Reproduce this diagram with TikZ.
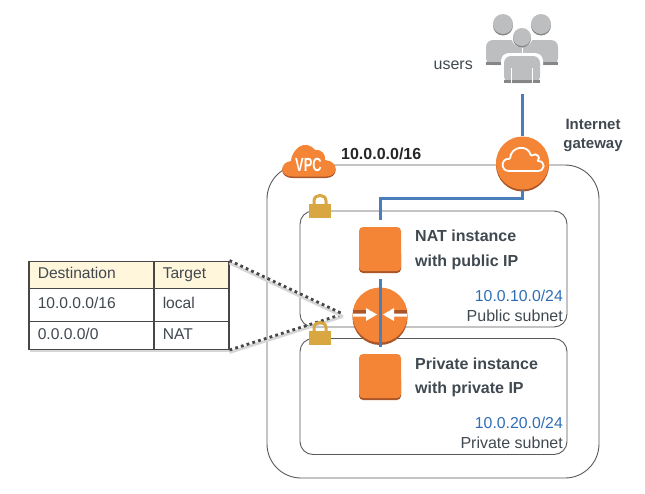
\documentclass[tikz,border=0pt]{standalone}
\usepackage{fontspec}
\setmainfont{Liberation Sans}
\usetikzlibrary{positioning}
\definecolor{awsorange}{HTML}{F58536}
\definecolor{awsbrown}{HTML}{A9572A}
\definecolor{lockgold}{HTML}{D9A741}
\definecolor{linkblue}{HTML}{4A7EBB}
\definecolor{labeltext}{HTML}{404850}
\definecolor{subnettext}{HTML}{2E6DB4}
\definecolor{usergray}{HTML}{BDBEC0}
\definecolor{userdark}{HTML}{858688}
\definecolor{headcell}{HTML}{FFF6DC}

\begin{document}
\begin{tikzpicture}[
        x = 1pt, y = -1pt,
        Frame/.style = {rectangle, draw = black!65, line width = 0.9pt, inner sep = 0},
        Vpc/.style = {Frame, rounded corners = 34, minimum width = 332, minimum height = 313},
        Subnet/.style = {Frame, rounded corners = 13, minimum width = 267, minimum height = 116},
        Instance/.style = {rectangle, rounded corners = 4, fill = awsorange, minimum width = 42, minimum height = 44, inner sep = 0},
        RoundIcon/.style = {circle, fill = awsorange, inner sep = 0},
        Link/.style = {draw = linkblue, line width = 3pt},
        DotLink/.style = {draw = black!72, line width = 2.8pt, dash pattern = on 2.8pt off 3.2pt,
            preaction = {draw = black!16, line width = 2.8pt, transform canvas = {yshift = -2.5pt}}},
        Bold/.style = {font = \fontsize{16}{19}\selectfont\bfseries, text = labeltext},
        Plain/.style = {font = \fontsize{16}{19}\selectfont, text = labeltext},
        Range/.style = {font = \fontsize{15.8}{19}\selectfont, text = subnettext, anchor = east, inner sep = 0},
        Cell/.style = {rectangle, draw = black!72, line width = 1.5pt, fill = white, inner sep = 0, inner xsep = 9, text = labeltext,
            font = \fontsize{15.6}{18}\selectfont, align = left, anchor = north west, text height = 11, text depth = 3},
        Lock/.pic = {
            \draw[lockgold, line width = 3pt] (-6,0) -- (-6,-4) .. controls (-6,-11.5) and (6,-11.5) .. (6,-4) -- (6,0);
            \fill[lockgold] (-11,-1) rectangle (11,13);
        },
    ]
        \useasboundingbox (0,0) rectangle (645,493);

        % Boxes
        \node[Vpc] (Vpc) at (433,321.5) {};
        \node[Subnet] (PublicNet) at (433.5,269) {};
        \node[Subnet] (PrivateNet) at (433.5,396.5) {};

        % Table
        \fill[black!16] (30,349.5) rectangle (230,351.5);
        \node[Cell, fill = headcell, minimum width = 125, minimum height = 27, text width = 107] (HeadDest) at (28,260.5) {Destination};
        \node[Cell, fill = headcell, minimum width = 75, minimum height = 27, text width = 57] (HeadTarget) at (153,260.5) {Target};
        \node[Cell, minimum width = 125, minimum height = 33, text width = 107] (LocalDest) at (28,287.5) {10.0.0.0/16};
        \node[Cell, minimum width = 75, minimum height = 33, text width = 57] (LocalTarget) at (153,287.5) {local};
        \node[Cell, minimum width = 125, minimum height = 28, text width = 107] (NatDest) at (28,320.5) {0.0.0.0/0};
        \node[Cell, minimum width = 75, minimum height = 28, text width = 57] (NatTarget) at (153,320.5) {NAT};

        % Router
        \fill[awsbrown] (380,317.5) circle[radius = 27.5];
        \node[RoundIcon, minimum size = 55] (Router) at (380,315) {};
        \coordinate (RouterLeft) at (343,314);
        \fill[awsbrown] (353,310) rectangle (371,313.5);
        \fill[awsbrown] (389,310) rectangle (407,313.5);
        \fill[white] (353,313.5) -- (366,313.5) -- (366,308) -- (377,314.5) -- (366,321) -- (366,316.5) -- (353,316.5) -- cycle;
        \fill[white] (407,313.5) -- (394,313.5) -- (394,308) -- (383,314.5) -- (394,321) -- (394,316.5) -- (407,316.5) -- cycle;

        % Instances
        \fill[awsbrown, rounded corners = 4] (359,250) rectangle (401,273);
        \node[Instance] (NatBox) at (380,249) {};
        \fill[awsbrown, rounded corners = 4] (359,376) rectangle (401,400);
        \node[Instance] (PrivateBox) at (380,376) {};

        % Gateway
        \fill[awsbrown] (522.5,165) circle[radius = 26.5];
        \node[RoundIcon, minimum size = 53] (Gateway) at (522.5,163) {};
        \draw[white, line width = 1.8pt, rounded corners = 1]
            (510,171) .. controls (500,171) and (501,158) .. (510,159)
            .. controls (511,146) and (528,144) .. (531,156)
            .. controls (537,152) and (541,158) .. (537,161)
            .. controls (546,161) and (545,171) .. (537,171) -- cycle;

        % Vpc cloud
        \fill[awsbrown] (293,178) .. controls (278,178) and (280,163) .. (291,162)
            .. controls (292,150) and (305,140) .. (315,151)
            .. controls (322,150) and (326,156) .. (325,161)
            .. controls (339,162) and (339,178) .. (326,178) -- cycle;
        \fill[awsorange] (293,176.5) .. controls (278,176.5) and (280,162) .. (291,161)
            .. controls (292,149) and (305,138) .. (315,150)
            .. controls (322,149) and (326,155) .. (325,160)
            .. controls (339,161) and (339,176.5) .. (326,176.5) -- cycle;
        \node[font = \fontsize{19}{21}\selectfont\bfseries, text = white, inner sep = 0, xscale = 0.68] (VpcCloud) at (308.5,165) {VPC};

        % Users
        \foreach \cx/\cy in {503/24, 541/24}{
            \fill[userdark] (\cx,\cy+1.5) circle[radius = 10];
            \fill[usergray] (\cx,\cy) circle[radius = 10];
        }
        \fill[usergray, rounded corners = 7] (486,65) -- (486,40) -- (522,40) -- (522,65) -- cycle;
        \fill[usergray, rounded corners = 7] (522,65) -- (522,40) -- (558,40) -- (558,65) -- cycle;
        \fill[userdark] (486,62) rectangle (503,65);
        \fill[userdark] (541,62) rectangle (558,65);
        \fill[white, rounded corners = 8] (501,86) -- (501,53) -- (543,53) -- (543,86) -- cycle;
        \fill[white] (521.5,48) rectangle (522.5,54);
        \fill[usergray, rounded corners = 7] (504,83) -- (504,56) -- (540,56) -- (540,83) -- cycle;
        \fill[userdark] (504,80) rectangle (540,83);
        \fill[white] (511,68) rectangle (512,83);
        \fill[white] (532,68) rectangle (533,83);
        \fill[white] (522,37) circle[radius = 10.5];
        \fill[userdark] (522,38.5) circle[radius = 9];
        \fill[usergray] (522,37) circle[radius = 9];
        \node[inner sep = 0, minimum width = 72, minimum height = 70] (Users) at (522.5,48) {};

        % Labels
        \node[Plain, anchor = east, inner sep = 0] (UsersLabel) at (473,65) {users};
        \node[Bold, text = black!85, anchor = west, inner sep = 0] (VpcRange) at (341,154) {10.0.0.0/16};
        \node[Bold, align = center, inner sep = 0, font = \fontsize{15}{19.5}\selectfont\bfseries] (GatewayLabel) at (593,135.5) {Internet\\gateway};
        \node[Bold, anchor = base west, align = left, inner sep = 0] (NatTop) at (415,241.5) {NAT instance};
        \node[Bold, anchor = base west, align = left, inner sep = 0] (NatBottom) at (415,266) {with public IP};
        \node[Bold, anchor = base west, align = left, inner sep = 0] (PrivateTop) at (415,369) {Private instance};
        \node[Bold, anchor = base west, align = left, inner sep = 0] (PrivateBottom) at (415,393.5) {with private IP};
        \node[Range] (PublicRange) at (563,296) {10.0.10.0/24};
        \node[Plain, anchor = east, inner sep = 0] (PublicName) at (563,316) {Public subnet};
        \node[Range] (PrivateRange) at (563,423) {10.0.20.0/24};
        \node[Plain, anchor = east, inner sep = 0] (PrivateName) at (563,443) {Private subnet};

        % Route lines
        \draw[DotLink] (NatTarget.south east) -- (RouterLeft);
        \draw[DotLink] (HeadTarget.north east) -- (RouterLeft);

        % Locks
        \pic at (320,205) {Lock};
        \pic at (320,332) {Lock};

        % Arrows
        \draw[Link, shorten < = 11] (Users.south) -- (Gateway.north);
        \draw[Link, shorten > = 7] (Gateway.south) -- ++(0,9) -| (NatBox.north);
        \draw[Link, shorten < = 8, shorten > = 7] (NatBox.south) -- (PrivateBox.north);
\end{tikzpicture}
\end{document}
